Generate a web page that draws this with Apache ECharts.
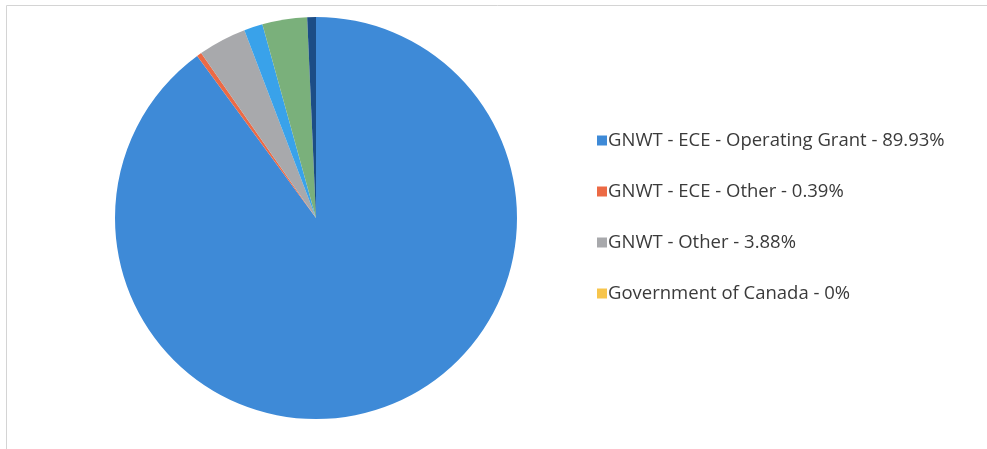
<!DOCTYPE html>
<html>
<head>
<meta charset="utf-8">
<script src="https://cdn.jsdelivr.net/npm/echarts@6/dist/echarts.min.js"></script>
<style>
  html, body { margin: 0; padding: 0; background: #ffffff; }
  #chart { width: 987px; height: 449px; }
</style>
</head>
<body>
<div id="chart"></div>
<script>
// Revenue sources, in percent of total
const categories = [
  'GNWT - ECE - Operating Grant',
  'GNWT - ECE - Other',
  'GNWT - Other',
  'Government of Canada',
  'Other Revenue',
  'Own Source Revenue',
  'Interest'
];
const shares = [89.93, 0.39, 3.88, 0, 1.5, 3.6, 0.7];
const legendCategories = categories.slice(0, 4);
const sliceColors = ['#3E8AD7', '#EC6A45', '#A8A9AC', '#F7C54C', '#39A2EA', '#7AB07B', '#1C4D86'];

const chart = echarts.init(document.getElementById('chart'));
const valueByName = {};
categories.forEach((c, i) => { valueByName[c] = shares[i]; });

chart.setOption({
  animation: false,
  color: sliceColors,
  graphic: [{
    type: 'rect',
    shape: { x: 6.5, y: 5.5, width: 1000, height: 460 },
    style: { fill: 'none', stroke: '#d4d4d4', lineWidth: 1 }
  }],
  legend: {
    data: legendCategories,
    orient: 'vertical',
    left: 592,
    top: 126,
    itemWidth: 10,
    itemHeight: 10,
    itemGap: 32,
    icon: 'rect',
    textStyle: { fontFamily: 'Open Sans', fontSize: 18.5, lineHeight: 18, color: '#3a3a3a', padding: [0, 0, 0, -4] },
    formatter: name => name + ' - ' + valueByName[name] + '%'
  },
  series: [{
    type: 'pie',
    center: [316, 218],
    radius: [0, 201],
    startAngle: 90,
    clockwise: true,
    label: { show: false },
    labelLine: { show: false },
    itemStyle: { borderWidth: 0 },
    stillShowZeroSum: true,
    data: categories.map((c, i) => ({ name: c, value: shares[i] }))
  }]
});
</script>
</body>
</html>
